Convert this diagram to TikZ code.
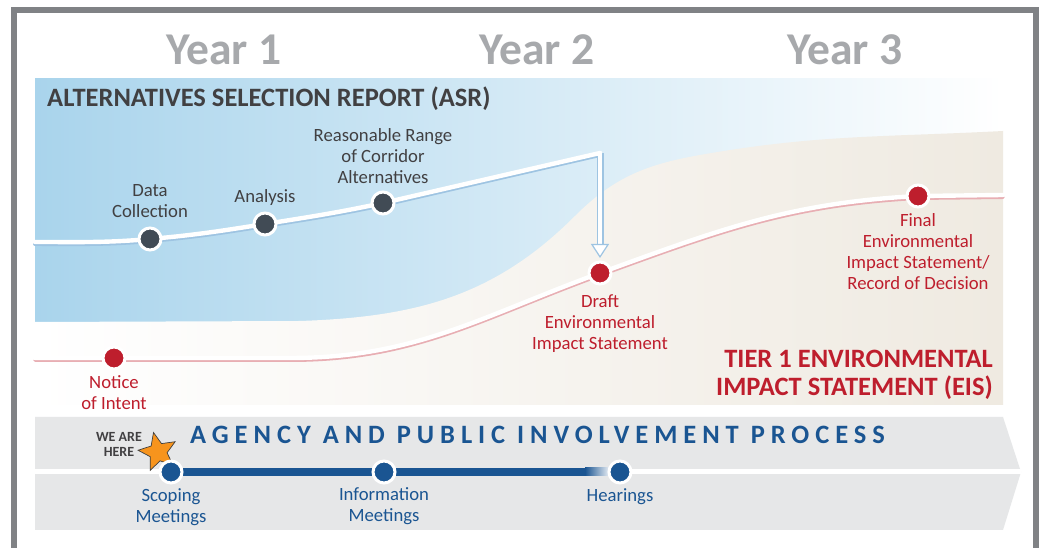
\documentclass[tikz,border=0pt]{standalone}
\usepackage{fontspec}
\setmainfont{Carlito}
\newfontfamily\spaced[LetterSpace=22.5]{Carlito}
\usepackage{xcolor}
\usetikzlibrary{calc,positioning,arrows.meta,shapes.geometric}
\definecolor{frame}{HTML}{808285}
\definecolor{yeargray}{HTML}{A7A9AC}
\definecolor{ink}{HTML}{414042}
\definecolor{asrblue}{HTML}{A9D4EC}
\definecolor{asrshadow}{HTML}{9EC4E2}
\definecolor{beige}{HTML}{EFEAE1}
\definecolor{slate}{HTML}{414B55}
\definecolor{eisred}{HTML}{BE1E2D}
\definecolor{eisshadow}{HTML}{E8AEB3}
\definecolor{band}{HTML}{E6E7E8}
\definecolor{pubblue}{HTML}{1A5592}
\definecolor{staror}{HTML}{F7941D}
\tikzset{
  yearlab/.style={text=yeargray, font=\fontsize{45.5}{45}\selectfont\bfseries, anchor=base},
  title/.style={font=\fontsize{26.5}{28}\selectfont\bfseries, inner sep=0pt},
  lab/.style={text=ink, font=\fontsize{18.7}{21}\selectfont, align=center, inner sep=0pt},
  redlab/.style={lab, text=eisred},
  bluelab/.style={lab, text=pubblue},
  dot/.style={circle, draw=white, line width=3pt, minimum size=22pt, inner sep=0pt},
  asrdot/.style={dot, fill=slate},
  eisdot/.style={dot, fill=eisred},
  pubdot/.style={dot, fill=pubblue},
  track/.style={draw=white, line width=4.4pt, line cap=round, line join=round},
  asrshade/.style={draw=asrshadow, line width=4pt, line cap=round, transform canvas={yshift=-2pt}},
  eisshade/.style={draw=eisshadow, line width=3.6pt, line cap=round, transform canvas={yshift=-2.2pt}},
  publine/.style={draw=pubblue, line width=8pt},
}

\begin{document}
\begin{tikzpicture}[x=1pt,y=1pt]
  \useasboundingbox (0,0) rectangle (1042,548);
  \fill[white] (0,0) rectangle (1042,548);

  % panels
  \shade[left color=asrblue, right color=white] (35,226) rectangle (1003,469);
  \shade[left color=white, right color=beige] (35,143) -- (35,226) -- (300,227)
    to[out=2,in=225] (575,332) to[out=45,in=190] (700,393) to[out=10,in=183] (1003,417)
    -- (1003,143) -- cycle;
  \fill[band] (35,131) -- (1003,131) -- (1021,76) -- (1003,18) -- (35,18) -- cycle;
  \draw[frame, line width=6pt] (14,-10) -- (14,538) -- (1035.5,538) -- (1035.5,-10);

  \node[yearlab] (y1) at (224,483) {Year 1};
  \node[yearlab] (y2) at (537,483) {Year 2};
  \node[yearlab] (y3) at (845,483) {Year 3};

  \node[title, text=ink, anchor=base west] (asr) at (47,441) {ALTERNATIVES SELECTION REPORT (ASR)};
  \node[title, text=eisred, align=right, anchor=north east] (eis) at (993,198)
    {TIER 1 ENVIRONMENTAL\\IMPACT STATEMENT (EIS)};

  % ASR track
  \coordinate (a0) at (35,306);
  \coordinate (datapt) at (150,309);
  \coordinate (anpt) at (265,324);
  \coordinate (rangept) at (383,345);
  \coordinate (turn) at (600,395);
  % EIS track
  \coordinate (e0) at (35,190);
  \coordinate (noticept) at (114,190);
  \coordinate (e1) at (290,190);
  \coordinate (draftpt) at (600,275);
  \coordinate (finalpt) at (918,352);
  \coordinate (e2) at (1003,353);
  % public track
  \coordinate (p0) at (35,76);
  \coordinate (scopept) at (171,76);
  \coordinate (infopt) at (384,76);
  \coordinate (fadept) at (585,76);
  \coordinate (hearpt) at (620,76);
  \coordinate (p1) at (1021,76);

  \def\asrtrack{(a0) to[out=0,in=185] (datapt) to[out=5,in=189] (anpt) to[out=9,in=192] (rangept) -- (turn)}
  \def\eistrack{(e0) -- (noticept) -- (e1) to[out=0,in=200] (draftpt) to[out=20,in=183] (finalpt) -- (e2)}

  \draw[eisshade] \eistrack;
  \draw[track] \eistrack;
  \draw[asrshade] \asrtrack;
  \draw[draw=asrshadow, line width=7pt, shorten >=28pt] (turn) -- (draftpt);
  \draw[track] \asrtrack;
  \draw[track, shorten >=15pt, -{Triangle[length=14pt,width=18pt,color=asrshadow,fill=white,line width=1.2pt]}]
    (turn) -- (draftpt);

  \draw[white, line width=5pt] (p0) -- (p1);
  \draw[publine] (scopept) -- (infopt) -- (fadept);
  \shade[left color=pubblue, right color=white] (585,72) rectangle (612,80);

  \node[title, text=pubblue, font=\spaced\fontsize{26.5}{26}\selectfont\bfseries, anchor=base west] (apip) at (190,104)
    {AGENCY AND PUBLIC INVOLVEMENT PROCESS};
  \node[text=ink, font=\fontsize{14}{15}\selectfont\bfseries, align=center, inner sep=0pt] (herelab) at (119,104) {WE ARE\\HERE};
  \node[star, star points=5, star point ratio=2.2, minimum size=40pt, inner sep=0pt,
    fill=staror, draw=black!75, line width=0.7pt, rotate=13] (star) at (158,96) {};

  \node[asrdot] (data) at (datapt) {};
  \node[asrdot] (analysis) at (anpt) {};
  \node[asrdot] (range) at (rangept) {};
  \node[lab, above=9pt of data] {Data\\Collection};
  \node[lab, above=6pt of analysis] {Analysis};
  \node[lab, above=6.5pt of range] {Reasonable Range\\of Corridor\\Alternatives};

  \node[eisdot] (notice) at (noticept) {};
  \node[eisdot] (draft) at (draftpt) {};
  \node[eisdot] (final) at (finalpt) {};
  \node[redlab, below=5pt of notice] {Notice\\of Intent};
  \node[redlab, below=9pt of draft] {Draft\\Environmental\\Impact Statement};
  \node[redlab, below=5pt of final] {Final\\Environmental\\Impact Statement/\\Record of Decision};

  \node[pubdot] (scoping) at (scopept) {};
  \node[pubdot] (info) at (infopt) {};
  \node[pubdot] (hearings) at (hearpt) {};
  \node[bluelab, below=4pt of scoping] {Scoping\\Meetings};
  \node[bluelab, below=3pt of info] {Information\\Meetings};
  \node[bluelab, below=4pt of hearings] {Hearings};
\end{tikzpicture}
\end{document}
